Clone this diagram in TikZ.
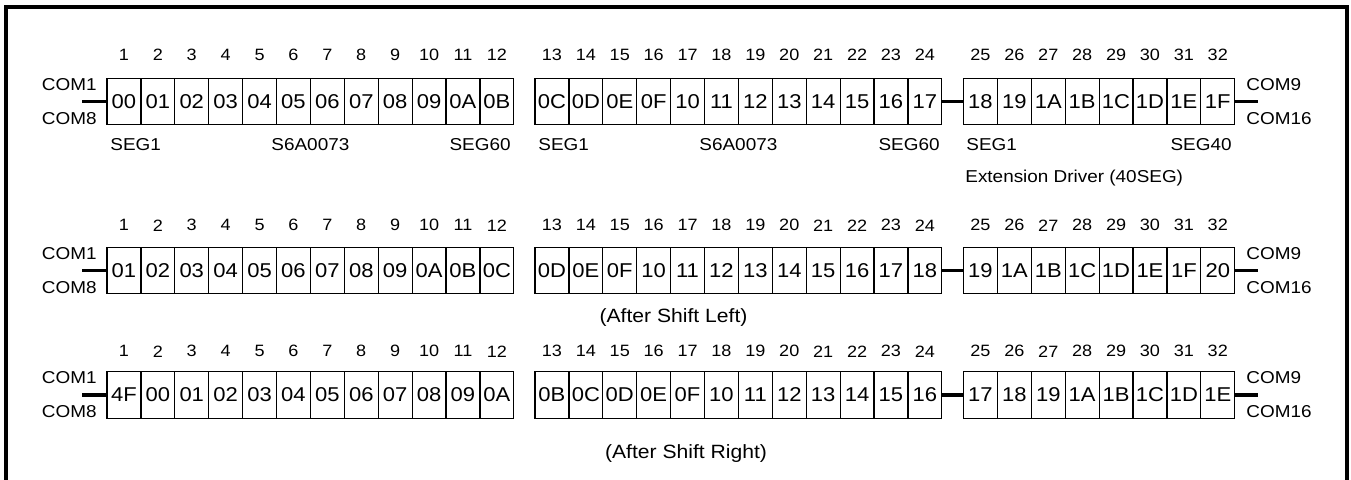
\documentclass[tikz,border=0pt]{standalone}
\usepackage{fontspec}
\setmainfont[FakeStretch=1.1]{Liberation Sans}

\begin{document}
\begin{tikzpicture}[x=0.5pt,y=-0.5pt,
	every node/.style={font=\fontsize{8.6}{10}\selectfont, inner sep=0pt},
	cell/.style={draw, line width=0.6pt, minimum width=16.95pt, minimum height=23.25pt, outer sep=0pt, font=\fontsize{10}{12}\selectfont},
	num/.style={font=\fontsize{8.2}{10}\selectfont},
	stub/.style={line width=1.8pt},
	caption/.style={font=\fontsize{9.6}{11}\selectfont},
	declare function={cellx(\n)=(\n<=12) ? 107+(\n-0.5)*33.9 : ((\n<=24) ? 535+(\n-12.5)*33.9 : 963.5+(\n-24.5)*33.9);}]
	\useasboundingbox (0,0) rectangle (1351,480);
	\draw[line width=1.6pt] (6,480) -- (6,7) -- (1347,7) -- (1347,480);
	% three rows of display RAM addresses
	\foreach \r/\yc/\yn/\vals in {
		a/101.5/55/{00,01,02,03,04,05,06,07,08,09,0A,0B,0C,0D,0E,0F,10,11,12,13,14,15,16,17,18,19,1A,1B,1C,1D,1E,1F},
		b/270.5/225.3/{01,02,03,04,05,06,07,08,09,0A,0B,0C,0D,0E,0F,10,11,12,13,14,15,16,17,18,19,1A,1B,1C,1D,1E,1F,20},
		c/395/351.3/{4F,00,01,02,03,04,05,06,07,08,09,0A,0B,0C,0D,0E,0F,10,11,12,13,14,15,16,17,18,19,1A,1B,1C,1D,1E}} {
		\foreach \v [count=\i] in \vals {
			\pgfmathsetmacro\cx{cellx(\i)}
			\node[cell] (\r\i) at (\cx,\yc) {\v};
			\node[num] (\r n\i) at (\cx,\yn) {\i};
		}
		\coordinate (\r L) at (82,\yc);
		\coordinate (\r R) at (1258,\yc);
		\draw[stub] (\r L) -- (\r1.west);
		\draw[stub] (\r24.east) -- (\r25.west);
		\draw[stub] (\r32.east) -- (\r R);
		\node[anchor=east] (\r com1) at (97,\yc-17) {COM1};
		\node[anchor=east] (\r com8) at (97,\yc+17) {COM8};
		\node[anchor=west] (\r com9) at (1246,\yc-17) {COM9};
		\node[anchor=west] (\r com16) at (1246,\yc+17) {COM16};
	}
	% driver labels under the first row
	\node[anchor=west] (seg1a) at (110,145) {SEG1};
	\node (chipa) at (310.4,145) {S6A0073};
	\node[anchor=east] (seg60a) at (511,145) {SEG60};
	\node[anchor=west] (seg1b) at (538,145) {SEG1};
	\node (chipb) at (738.4,145) {S6A0073};
	\node[anchor=east] (seg60b) at (940,145) {SEG60};
	\node[anchor=west] (seg1c) at (966,145) {SEG1};
	\node[anchor=east] (seg40c) at (1232,145) {SEG40};
	\node[anchor=west] (ext) at (965,178) {Extension Driver (40SEG)};
	\node[caption] (left) at (673.5,318) {(After Shift Left)};
	\node[caption] (right) at (686,454) {(After Shift Right)};
\end{tikzpicture}
\end{document}
